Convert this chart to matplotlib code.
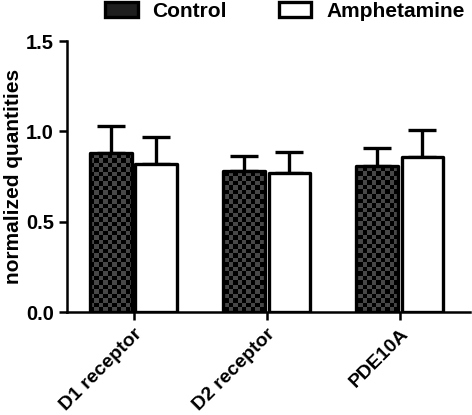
import numpy as np
import matplotlib.pyplot as plt
from matplotlib.patches import Patch

plt.rcParams["font.family"] = ["Liberation Sans", "DejaVu Sans"]
plt.rcParams["font.weight"] = "bold"

# ------------------------------------------------------------
# data
# ------------------------------------------------------------
genes = ["D1 receptor", "D2 receptor", "PDE10A"]
control_mean = [0.88, 0.78, 0.81]
control_err = [0.15, 0.085, 0.10]
amph_mean = [0.82, 0.77, 0.856]
amph_err = [0.15, 0.115, 0.15]

# ------------------------------------------------------------
# plot
# ------------------------------------------------------------
fig = plt.figure(figsize=(4.72, 4.15), dpi=100)
ax = fig.add_axes([0.142, 0.248, 0.854, 0.653])

x = np.arange(len(genes))
w = 0.315
off = 0.172

ax.set_xlim(-0.5, 2.53)
ax.set_ylim(0, 1.5)

ctrl = ax.bar(x - off, control_mean, w, color="#3c3c3c", edgecolor="black",
              linewidth=2.4, joinstyle="round", zorder=3)
amph = ax.bar(x + off, amph_mean, w, color="white", edgecolor="black",
              linewidth=2.4, joinstyle="round", zorder=3)

# checkerboard fill for the control bars
cb = np.indices((60, 90)).sum(axis=0) % 2
for bar in ctrl:
    im = ax.imshow(cb, cmap="gray", vmin=0, vmax=3.6, interpolation="nearest",
                   extent=(-0.5, 2.53, 0, 1.5), aspect="auto", zorder=3.5)
    im.set_clip_path(bar)
    bar.set_facecolor("none")
    bar.set_zorder(4)

ax.errorbar(x - off, control_mean, yerr=[np.zeros(3), control_err], fmt="none",
            ecolor="black", elinewidth=2.4, capsize=10, capthick=2.4, zorder=2)
ax.errorbar(x + off, amph_mean, yerr=[np.zeros(3), amph_err], fmt="none",
            ecolor="black", elinewidth=2.4, capsize=10, capthick=2.4, zorder=2)

ax.set_yticks([0.0, 0.5, 1.0, 1.5])
ax.set_yticklabels(["0.0", "0.5", "1.0", "1.5"])
ax.set_xticks(x)
ax.set_xticklabels(genes, rotation=45, ha="right", rotation_mode="anchor")
ax.tick_params(labelsize=14.5, width=1.8, length=6)
ax.tick_params(axis="x", labelsize=14)
ax.set_ylabel("normalized quantities", fontsize=15, fontweight="bold", labelpad=2)

for s in ["top", "right"]:
    ax.spines[s].set_visible(False)
for s in ["left", "bottom"]:
    ax.spines[s].set_linewidth(1.8)

handles = [Patch(facecolor="#1e1e1e", edgecolor="black", linewidth=2.4),
           Patch(facecolor="white", edgecolor="black", linewidth=2.4)]
fig.legend(handles, ["Control", "Amphetamine"], loc="center",
           bbox_to_anchor=(0.604, 0.972), ncol=2, frameon=False,
           fontsize=15, handlelength=1.55, handleheight=0.75,
           columnspacing=2.5, handletextpad=0.72, borderpad=0.2)

fig.savefig("out.png", dpi=100)
